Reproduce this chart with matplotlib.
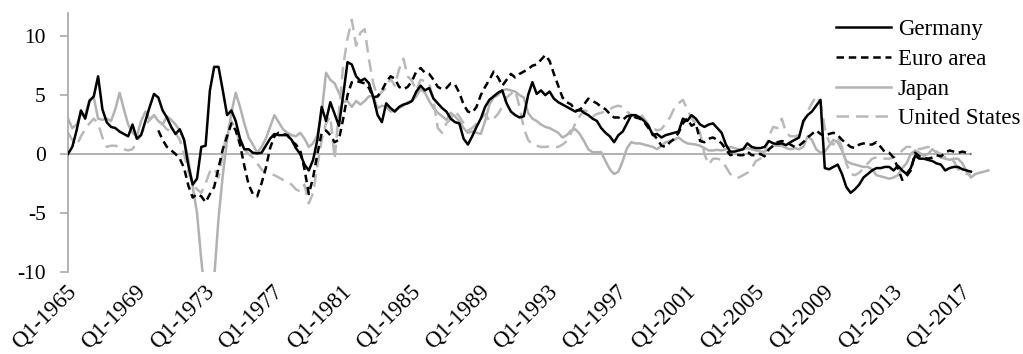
import numpy as np
import pandas as pd
import matplotlib
matplotlib.use("Agg")
import matplotlib.pyplot as plt
from matplotlib.lines import Line2D
from matplotlib.transforms import ScaledTranslation

plt.rcParams['font.family'] = ['Liberation Serif', 'DejaVu Serif']
plt.rcParams['axes.unicode_minus'] = False

# quarterly real rates, Q1-1965 onwards
quarters = pd.period_range('1965Q1', '2018Q3', freq='Q')

germany = [
    0.0, 0.6, 2.0, 3.7,  3.0, 4.5, 4.9, 6.6,  3.8, 2.7, 2.3, 2.2,  1.9, 1.7, 1.5, 2.5,
    1.3, 1.6, 2.8, 4.0,  5.1, 4.8, 3.7, 3.1,  2.3, 1.7, 2.1, 1.2,  -1.0, -2.6, -2.1, 0.6,
    0.7, 5.4, 7.4, 7.4,  5.4, 3.3, 3.7, 2.8,  1.3, 0.4, 0.4, 0.1,  0.05, 0.1, 0.7, 1.3,
    1.7, 1.6, 1.6, 1.6,  1.2, 0.5, 0.0, -0.9,  -1.4, -0.5, 1.2, 4.0,  2.8, 4.4, 3.4, 2.4,
    5.0, 7.8, 7.6, 6.6,  6.2, 6.4, 6.0, 4.8,  3.3, 2.7, 4.3, 3.9,  3.6, 4.0, 4.2, 4.3,
    4.5, 5.3, 5.8, 5.4,  5.6, 4.7, 4.3, 3.9,  3.6, 3.0, 2.7, 2.6,  1.3, 0.8, 1.5, 2.3,
    3.0, 4.0, 4.6, 4.9,  5.2, 5.4, 4.3, 3.6,  3.3, 3.1, 3.2, 5.0,  6.1, 5.1, 5.4, 5.0,
    5.3, 4.7, 4.4, 4.2,  4.0, 3.8, 3.6, 3.8,  3.5, 3.3, 3.0, 2.8,  2.2, 1.8, 1.5, 1.0,
    1.6, 1.9, 2.6, 3.3,  3.3, 3.1, 2.8, 2.4,  1.6, 1.7, 1.4, 1.6,  1.7, 1.8, 1.9, 3.0,
    2.8, 3.3, 3.0, 2.5,  2.3, 2.5, 2.6, 2.2,  1.8, 0.8, 0.2, 0.2,  0.3, 0.4, 0.9, 0.6,
    0.5, 0.5, 0.6, 1.1,  0.9, 0.85, 0.9, 0.75,  1.0, 1.2, 1.4, 2.8,  3.3, 3.6, 4.1, 4.6,
    -1.2, -1.3, -1.1, -0.9,  -1.7, -2.8, -3.3, -3.0,  -2.6, -2.0, -1.7, -1.4,
    -1.2, -1.2, -1.1, -1.1,  -1.4, -1.0, -1.4, -1.7,  -1.2, -0.15, -0.4, -0.4,
    -0.5, -0.6, -0.8, -0.9,  -1.4, -1.2, -1.1, -1.1,  -1.3, -1.4, -1.5,
]

# euro area series begins in Q2-1970
euro_start = 21
euro_area = [
    2.0, 1.2, 0.6,  0.3, 0.0, -0.4, -1.2,  -2.7, -3.7, -3.4, -3.6,  -4.1, -3.4, -2.8, -1.2,
    0.4, 1.5, 2.6, 2.0,  0.8, -1.0, -2.6, -3.4,  -3.6, -2.5, -1.2, 0.5,  1.5, 1.8, 1.7, 1.6,
    1.1, 0.8, 0.3, -1.3,  -3.4, -2.0, 0.0, 1.8,  2.0, 1.6, 1.0, 1.2,  3.0, 5.0, 6.1, 6.2,
    6.1, 6.0, 5.6, 4.8,  4.9, 5.4, 6.1, 6.6,  6.4, 5.7, 5.5, 5.7,  6.2, 7.0, 7.3, 6.9,
    6.8, 6.3, 5.7, 5.5,  5.6, 6.0, 5.9, 5.2,  4.2, 3.6, 3.5, 4.0,  5.0, 5.7, 6.3, 7.0,
    6.5, 5.8, 6.3, 6.8,  6.5, 6.8, 7.0, 7.2,  7.5, 7.6, 8.0, 8.4,  7.9, 6.8, 5.8, 4.8,
    4.4, 4.2, 3.7, 3.7,  4.2, 4.7, 4.5, 4.3,  4.0, 3.8, 3.4, 3.1,  3.1, 2.9, 3.2, 3.3,
    3.1, 3.0, 2.7, 2.2,  1.7, 1.3, 0.7, 0.6,  1.0, 1.3, 1.8, 2.6,  3.0, 2.4, 2.6, 1.1,
    1.0, 1.3, 1.4, 1.2,  0.9, 0.4, -0.1, 0.0,  -0.1, -0.1, 0.2, -0.1,  -0.1, 0.0, -0.2, 0.4,
    0.7, 1.0, 1.1, 1.0,  0.8, 0.6, 0.7, 1.0,  1.4, 1.7, 2.0, 1.7,  1.5, 1.7, 1.8, 1.6,
    1.2, 0.9, 0.6, 0.5,  0.8, 0.9, 0.8, 0.8,  1.0, 0.6, 0.15, 0.1,  -0.3, -1.2, -2.2, -1.9,
    -1.4, 0.1, -0.2, -0.3,  -0.4, -0.3, -0.1, -0.2,  0.1, 0.3, 0.2, 0.1,  0.2, 0.1, 0.0,
]

japan = [
    3.0, 2.2, 2.5, 3.4,  3.3, 4.6, 4.8, 3.0,  2.9, 3.0, 2.8, 3.8,  5.2, 3.8, 2.5, 1.8,
    1.5, 2.8, 3.6, 2.9,  3.3, 2.8, 2.5, 3.2,  2.9, 2.5, 2.0, 1.2,  -0.5, -2.8, -5.0, -9.0,
    -12.5, -13.0, -10.5, -5.5,  -1.8, 1.2, 3.5, 5.2,  4.0, 2.6, 1.4, 0.8,  0.1, 0.6, 1.3, 2.3,
    3.3, 2.7, 2.1, 1.8,  1.6, 1.5, 1.8, 1.3,  0.6, 0.9, 1.6, 3.5,  6.9, 6.3, 6.0, 5.2,
    4.4, 4.5, 4.0, 4.5,  4.2, 4.5, 4.9, 4.9,  3.9, 4.1, 4.0, 3.6,  3.7, 3.9, 4.1, 4.4,
    4.5, 4.9, 5.5, 5.2,  4.5, 3.9, 3.5, 3.2,  2.9, 3.5, 3.2, 2.8,  2.2, 1.8, 1.9, 1.8,
    1.7, 2.8, 4.2, 4.8,  5.0, 5.4, 5.5, 5.4,  5.3, 5.0, 4.8, 3.5,  3.0, 2.8, 2.5, 2.3,
    2.2, 2.0, 1.8, 1.4,  1.6, 2.0, 2.1, 1.7,  1.1, 0.4, 0.15, 0.15,  0.15, -0.6, -1.3, -1.7,
    -1.5, -0.6, 0.5, 1.0,  0.9, 0.9, 0.8, 0.7,  0.6, 0.4, 0.7, 1.0,  1.1, 1.2, 1.4, 1.1,
    0.9, 0.85, 0.8, 0.7,  0.5, 0.3, 0.3, 0.35,  0.3, 0.4, 0.6, 0.5,  0.4, 0.4, 0.5, 0.4,
    0.3, 0.2, 0.2, 0.4,  0.7, 0.7, 0.7, 0.5,  0.4, 0.5, 0.4, 0.6,  1.5, 1.2, 0.4, 0.1,
    0.2, 0.7, 1.2, 1.0,  0.3, -0.6, -0.8, -0.9,  -1.0, -1.1, -1.1, -1.3,  -1.8, -1.9, -2.0, -2.1,
    -2.0, -1.8, -1.2, -0.8,  0.0, 0.3, 0.1, -0.15,  0.0, 0.4, 0.1, -0.3,  -0.4, -0.5, -0.4, -0.4,
    -0.8, -1.5, -2.0, -1.7,  -1.6, -1.5, -1.4,
]

united_states = [
    1.8, 1.2, 0.7, 1.5,  2.1, 2.6, 3.0, 2.6,  1.4, 0.6, 0.7, 0.7,  0.6, 0.4, 0.3, 0.4,
    1.0, 1.7, 2.4, 2.9,  3.3, 2.9, 2.5, 2.1,  1.9, 1.8, 1.2, 0.0,  -1.5, -2.6, -3.0, -3.3,
    -2.5, -1.5, -1.2, -2.0,  0.0, 2.0, 2.8, 2.0,  1.0, 0.4, 0.0, -0.3,  -0.8, -1.3, -1.6, -1.7,
    -1.8, -2.0, -2.2, -2.4,  -2.6, -3.0, -3.2, -2.6,  -4.2, -3.3, -1.0, 1.2,  2.6, 3.2, -0.4, 3.5,
    7.5, 9.8, 11.4, 9.2,  10.3, 10.6, 8.0, 6.0,  4.8, 5.3, 5.6, 6.4,  5.8, 7.2, 8.1, 6.6,
    6.2, 5.4, 6.3, 6.2,  6.0, 4.5, 2.2, 1.8,  2.6, 3.0, 3.6, 3.2,  2.6, 2.0, 2.2, 2.6,
    3.0, 3.4, 2.8, 3.0,  3.4, 4.0, 4.8, 5.1,  5.4, 4.0, 2.2, 1.2,  0.8, 0.7, 0.6, 0.6,
    0.65, 0.6, 0.6, 0.8,  1.1, 1.8, 2.6, 3.2,  3.7, 3.6, 3.2, 3.4,  3.5, 3.6, 3.8, 4.0,
    4.1, 4.0, 3.6, 3.3,  3.1, 3.5, 3.0, 2.5,  2.2, 2.0, 2.1, 2.6,  3.1, 3.9, 4.3, 4.6,
    3.8, 3.0, 2.6, 1.8,  0.0, -0.9, -0.4, -0.4,  -0.5, -1.1, -1.7, -2.0,  -2.0, -1.8, -1.6, -1.2,
    -0.6, -0.4, 0.0, 1.5,  2.3, 2.2, 3.0, 1.8,  1.5, 1.5, 1.6, 2.6,  3.6, 4.3, 4.9, 4.4,
    2.2, 1.0, 0.8, 1.4,  0.6, -0.8, -1.7, -1.8,  -1.6, -1.2, -0.8, -0.4,  -0.3, -0.3, -0.4, -0.4,
    -0.3, -0.1, 0.3, 0.6,  0.6, 0.6, 0.4, 0.5,  0.6, 0.5, 0.2, 0.0,  -0.3, -0.5, -0.6, -1.3,
    -1.6, -1.7, -1.7,
]

tick_labels = ['Q1-1965', 'Q1-1969', 'Q1-1973', 'Q1-1977', 'Q1-1981', 'Q1-1985', 'Q1-1989',
               'Q1-1993', 'Q1-1997', 'Q1-2001', 'Q1-2005', 'Q1-2009', 'Q1-2013', 'Q1-2017']

idx = np.arange(len(quarters))
W, H = 1023, 354

fig = plt.figure(figsize=(W / 100, H / 100), dpi=100)
ax = fig.add_axes([68 / W, 1 - 271.7 / H, 932 / W, 259 / H])

gray = '#b2b2b2'
n_main = len(germany)
ax.plot([idx[0], idx[n_main - 1]], [0, 0], color=gray, lw=1.4, zorder=1)

ax.plot(idx[:len(germany)], germany, color='black', lw=1.8, zorder=3)
ax.plot(idx[euro_start:euro_start + len(euro_area)], euro_area, color='black', lw=1.8,
        dashes=(3.0, 1.9), zorder=3)
ax.plot(idx[:len(japan)], japan, color=gray, lw=1.8, zorder=2)
ax.plot(idx[:len(united_states)], united_states, color='#b9b9b9', lw=1.8,
        dashes=(5.0, 2.8), zorder=2)

ax.set_xlim(0, 932 / 4.3)
ax.set_ylim(-10, 12)

for side in ('top', 'right', 'bottom'):
    ax.spines[side].set_visible(False)
ax.spines['left'].set_color('#a6a6a6')
ax.spines['left'].set_linewidth(1.2)

ax.set_yticks([-10, -5, 0, 5, 10])
ax.tick_params(axis='y', length=6, width=1.1, color='#a6a6a6', pad=10,
               labelsize=15.5, labelcolor='black')

ax.set_xticks(idx[::16][:len(tick_labels)])
ax.set_xticklabels(tick_labels, rotation=45, ha='right', va='center',
                   rotation_mode='anchor', fontsize=16.5)
ax.tick_params(axis='x', length=0, pad=12)
# nudge the slanted labels so their ends sit just right of each quarter
shift = ScaledTranslation(5 / 100, 0, fig.dpi_scale_trans)
for lbl in ax.get_xticklabels():
    lbl.set_transform(lbl.get_transform() + shift)

handles = [
    Line2D([], [], color='black', lw=1.8),
    Line2D([], [], color='black', lw=1.8, dashes=(3.0, 1.9)),
    Line2D([], [], color=gray, lw=1.8),
    Line2D([], [], color='#b9b9b9', lw=1.8, dashes=(5.0, 2.8)),
]
fig.legend(handles, ['Germany', 'Euro area', 'Japan', 'United States'],
           loc='upper left', bbox_to_anchor=(836 / W, 1 - 19 / H), frameon=False,
           fontsize=16.5, handlelength=2.4, handletextpad=0.3, labelspacing=0.38,
           borderpad=0, borderaxespad=0)

fig.savefig('out.png', dpi=100)
